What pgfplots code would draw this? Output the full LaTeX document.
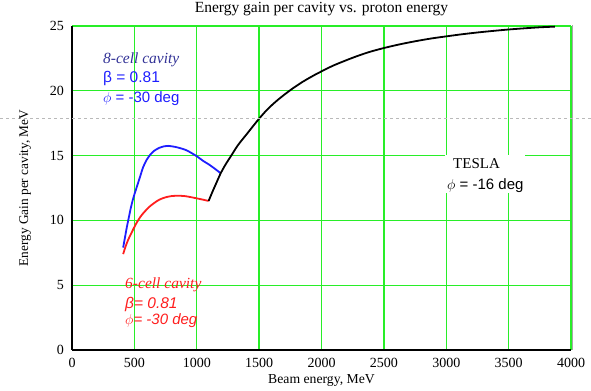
\documentclass[border=0pt]{standalone}
\usepackage{pgfplots}
\pgfplotsset{compat=1.18}
\usepackage{fontspec}
\setmainfont{Liberation Serif}
\newfontfamily\arial{Liberation Sans}
\definecolor{gridgreen}{RGB}{40,238,40}
\definecolor{navy}{RGB}{50,50,150}
\definecolor{myblue}{RGB}{30,30,255}
\definecolor{myred}{RGB}{255,30,30}
\begin{document}
\begin{tikzpicture}
\path[use as bounding box] (0,0) rectangle (591bp,391bp);
\begin{axis}[
  at={(72bp,41bp)}, anchor=south west,
  scale only axis, width=499bp, height=324bp,
  xmin=0, xmax=4000, ymin=0, ymax=25,
  xtick={0,500,...,4000}, ytick={0,5,...,25},
  axis x line*=bottom, axis y line*=left,
  axis line style={black, line width=1.2bp, -},
  major tick length=0pt,
  grid=major,
  major grid style={gridgreen, line width=1.3bp},
  clip=false,
  /pgf/number format/1000 sep={},
  /pgf/number format/assume math mode=true,
  ticklabel style={font=\fontsize{14bp}{16bp}\selectfont, inner sep=0pt},
  xticklabel style={anchor=base, yshift=-18bp},
  yticklabel style={anchor=east, xshift=-8bp},
  title={Energy gain per cavity vs. proton energy},
  title style={at={(0.5,1)}, anchor=base, yshift=8bp, font=\fontsize{15.5bp}{18bp}\selectfont},
  xlabel={Beam energy, MeV},
  xlabel style={at={(rel axis cs:0.5,0)}, anchor=base, yshift=-34bp, font=\fontsize{13.7bp}{16bp}\selectfont},
  ylabel={Energy Gain per cavity, MeV},
  ylabel style={at={(rel axis cs:0,0.5)}, anchor=base, yshift=44bp, font=\fontsize{13.3bp}{16bp}\selectfont},
]
% right edge shadow
\addplot[gray!70, line width=0.8bp, forget plot] coordinates {(4012,0) (4012,25.05)};
\addplot[myblue, line width=1.8bp, smooth] coordinates {
(410,7.9)(425,8.7)(440,9.5)(455,10.2)(470,10.9)(485,11.5)(500,12.0)(520,12.6)(545,13.35)(570,14.1)(600,14.7)(630,15.1)(660,15.38)(700,15.6)(740,15.72)(770,15.75)(810,15.7)(850,15.62)(920,15.4)(1000,14.95)(1050,14.6)(1100,14.3)(1150,13.95)(1190,13.65)};
\addplot[myred, line width=1.8bp, smooth] coordinates {
(410,7.4)(430,8.0)(450,8.5)(470,8.9)(490,9.3)(520,9.85)(550,10.3)(580,10.65)(620,11.05)(660,11.35)(700,11.6)(750,11.78)(800,11.88)(850,11.9)(900,11.88)(950,11.8)(1000,11.7)(1050,11.6)(1095,11.5)};
\addplot[black, line width=1.8bp, smooth] coordinates {
(1095,11.5)(1130,12.3)(1160,12.95)(1190,13.6)(1230,14.3)(1270,14.9)(1330,15.8)(1400,16.65)(1500,17.85)(1570,18.6)(1650,19.3)(1750,20.05)(1850,20.7)(1950,21.25)(2000,21.5)(2100,21.97)(2250,22.55)(2375,22.97)(2500,23.3)(2625,23.58)(2750,23.82)(2875,24.03)(3000,24.2)(3125,24.36)(3250,24.5)(3375,24.62)(3500,24.73)(3625,24.82)(3750,24.9)(3870,24.95)};
% dashed page line
\addplot[gray!55, line width=0.8bp, dash pattern=on 3bp off 3bp] coordinates {(-577,17.88) (4160,17.88)};
% TESLA box
\fill[white] (axis cs:2990,12.1) rectangle (axis cs:3631,15.05);
\node[anchor=base west, inner sep=0pt, font=\fontsize{15bp}{16bp}\selectfont] at (axis cs:3054,14.04) {TESLA};
\node[anchor=base west, inner sep=0pt, font=\arial\fontsize{15bp}{16bp}\selectfont] at (axis cs:3006,12.35) {$\phi$ = -16 deg};
% blue annotation
\node[anchor=base west, inner sep=0pt, text=navy, font=\itshape\fontsize{15.5bp}{16bp}\selectfont] at (axis cs:248,22.1) {8-cell cavity};
\node[anchor=base west, inner sep=0pt, text=myblue, font=\arial\fontsize{15.5bp}{16bp}\selectfont] at (axis cs:248,20.65) {β = 0.81};
\node[anchor=base west, inner sep=0pt, text=myblue, font=\arial\fontsize{15bp}{16bp}\selectfont] at (axis cs:248,19.1) {$\phi$ = -30 deg};
% red annotation
\node[anchor=base west, inner sep=0pt, text=myred, font=\itshape\fontsize{15.5bp}{16bp}\selectfont] at (axis cs:425,4.78) {6-cell cavity};
\node[anchor=base west, inner sep=0pt, text=myred, font=\arial\itshape\fontsize{15.5bp}{16bp}\selectfont] at (axis cs:425,3.24) {β= 0.81};
\node[anchor=base west, inner sep=0pt, text=myred, font=\arial\itshape\fontsize{15bp}{16bp}\selectfont] at (axis cs:425,1.93) {$\phi$= -30 deg};
\end{axis}
\end{tikzpicture}
\end{document}
